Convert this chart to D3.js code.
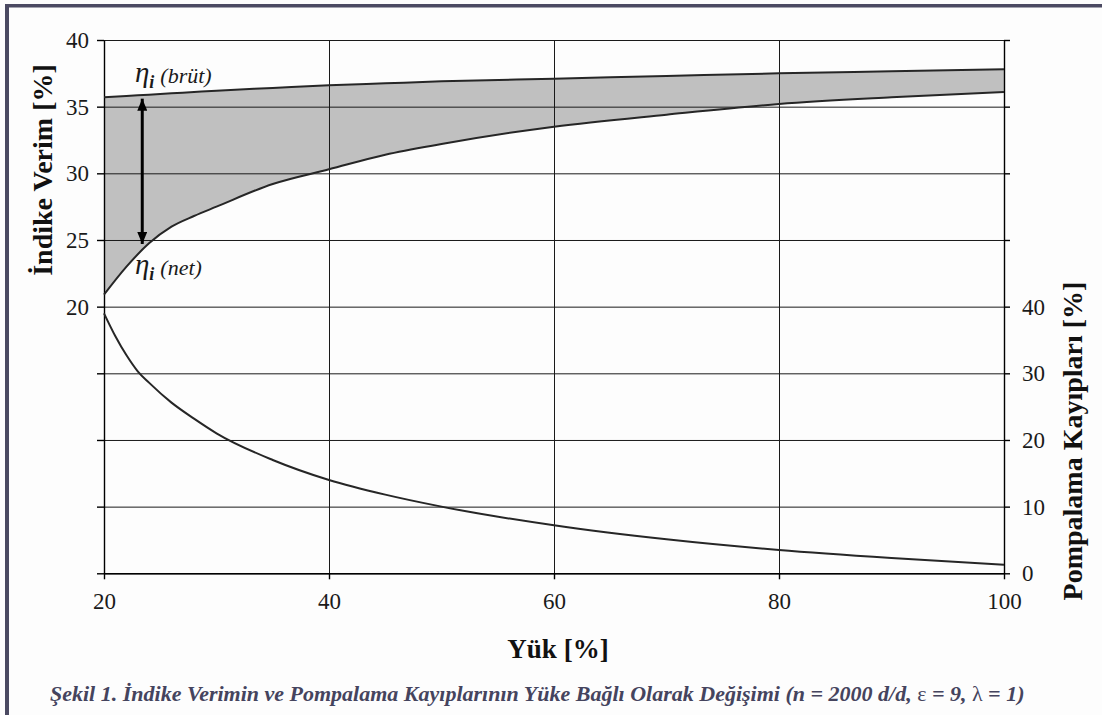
<!DOCTYPE html>
<html>
<head>
<meta charset="utf-8">
<script src="https://cdnjs.cloudflare.com/ajax/libs/d3/7.8.5/d3.min.js"></script>
<style>
  body { margin: 0; background: #fff; }
  svg { display: block; font-family: "Liberation Serif", "Times New Roman", serif; }
  .grid line { stroke: #1a1a1a; stroke-width: 1; }
  .grid path { display: none; }
  .axis path, .axis line { stroke: #000; stroke-width: 1.4; }
  .axis text { font-size: 23px; fill: #1a1a1a; font-family: "Liberation Serif", serif; }
  .curve { fill: none; stroke: #262626; stroke-width: 2; }
</style>
</head>
<body>
<div id="chart"></div>
<script>
// Yük [%] points used for the two efficiency curves
var loadEff = [20, 22, 24, 26, 28, 30, 35, 40, 45, 50, 60, 70, 80, 90, 100];
// indike verim, brüt and net [%] (left axis)
var etaBrut = [35.7, 35.8, 35.9, 36.0, 36.1, 36.2, 36.4, 36.6, 36.75, 36.9, 37.1, 37.3, 37.5, 37.65, 37.8];
var etaNet = [20.9, 23.0, 24.75, 26.0, 26.8, 27.5, 29.2, 30.3, 31.4, 32.2, 33.5, 34.4, 35.2, 35.7, 36.1];

// pompalama kayıpları [%] (right axis)
var loadPump = [20, 21, 22, 23, 24, 26, 28, 30, 35, 40, 45, 50, 60, 70, 80, 90, 100];
var pumpLoss = [39.0, 35.6, 32.7, 30.3, 28.6, 25.6, 23.2, 21.0, 17.0, 14.0, 11.8, 10.0, 7.2, 5.1, 3.5, 2.3, 1.3];

// ticks
var xTicks = [20, 40, 60, 80, 100];
var leftTicks = [0, 5, 10, 15, 20, 25, 30, 35, 40];
var rightTicks = [0, 10, 20, 30, 40, 50, 60, 70, 80];

// arrow between the curves: load, top and bottom value
var arrowLoad = 23.4, arrowTop = 35.6, arrowBottom = 24.7;

var caption = "Şekil 1. İndike Verimin ve Pompalama Kayıplarının Yüke Bağlı Olarak Değişimi  (n = 2000 d/d, ";

var W = 1102, H = 715;
var margin = {top: 40, right: 98, bottom: 141.7, left: 104},
    width = W - margin.left - margin.right,
    height = H - margin.top - margin.bottom;

var svg = d3.select("#chart").append("svg")
    .attr("width", W)
    .attr("height", H);

svg.append("rect").attr("width", W).attr("height", H).attr("fill", "#fdfdfd");

// frame on top and left
svg.append("rect").attr("x", 5).attr("y", 4).attr("width", W - 5).attr("height", 3.5).attr("fill", "#4b4a62");
svg.append("rect").attr("x", 5).attr("y", 4).attr("width", 4).attr("height", H - 4).attr("fill", "#4b4a62");

var x = d3.scaleLinear().domain([20, 100]).range([0, width]),
    yL = d3.scaleLinear().domain([0, 40]).range([height, 0]),
    yR = d3.scaleLinear().domain([0, 80]).range([height, 0]);

var g = svg.append("g")
    .attr("transform", "translate(" + margin.left + "," + margin.top + ")");

// shaded band between brüt and net
var band = d3.area()
    .curve(d3.curveMonotoneX)
    .x(function(d, i) { return x(loadEff[i]); })
    .y0(function(d, i) { return yL(etaNet[i]); })
    .y1(function(d, i) { return yL(etaBrut[i]); });

g.append("path")
    .datum(loadEff)
    .attr("fill", "#c0c0c0")
    .attr("d", band);

// gridlines
g.append("g")
    .attr("class", "grid")
    .call(d3.axisLeft(yL).tickValues(leftTicks).tickSize(-width).tickFormat(""));

g.append("g")
    .attr("class", "grid")
    .attr("transform", "translate(0," + height + ")")
    .call(d3.axisBottom(x).tickValues([40, 60, 80]).tickSize(-height).tickFormat(""));

// axes
g.append("g")
    .attr("class", "axis")
    .call(d3.axisLeft(yL).tickValues(leftTicks).tickSize(7).tickSizeOuter(0).tickPadding(8)
      .tickFormat(function(d) { return d >= 20 ? d : ""; }));

g.append("g")
    .attr("class", "axis")
    .attr("transform", "translate(" + width + ",0)")
    .call(d3.axisRight(yR).tickValues(rightTicks).tickSize(6).tickSizeOuter(0).tickPadding(12)
      .tickFormat(function(d) { return d <= 40 ? d : ""; }));

g.append("g")
    .attr("class", "axis")
    .attr("transform", "translate(0," + height + ")")
    .call(d3.axisBottom(x).tickValues(xTicks).tickSize(6).tickSizeOuter(0).tickPadding(13));

// curves
var lineL = function(xs) {
  return d3.line()
    .curve(d3.curveMonotoneX)
    .x(function(d, i) { return x(xs[i]); })
    .y(function(d) { return yL(d); });
};

g.append("path").datum(etaBrut).attr("class", "curve").attr("d", lineL(loadEff));
g.append("path").datum(etaNet).attr("class", "curve").attr("d", lineL(loadEff));

var pumpLine = d3.line()
    .curve(d3.curveMonotoneX)
    .x(function(d, i) { return x(loadPump[i]); })
    .y(function(d) { return yR(d); });

g.append("path").datum(pumpLoss).attr("class", "curve").attr("d", pumpLine);

// double arrow
var defs = svg.append("defs");
defs.append("marker")
    .attr("id", "head")
    .attr("viewBox", "0 0 12 10")
    .attr("refX", 12).attr("refY", 5)
    .attr("markerWidth", 12).attr("markerHeight", 10)
    .attr("markerUnits", "userSpaceOnUse")
    .attr("orient", "auto-start-reverse")
  .append("path")
    .attr("d", "M0,0 L12,5 L0,10 Z")
    .attr("fill", "#000");

g.append("line")
    .attr("x1", x(arrowLoad)).attr("x2", x(arrowLoad))
    .attr("y1", yL(arrowTop)).attr("y2", yL(arrowBottom))
    .attr("stroke", "#000")
    .attr("stroke-width", 3)
    .attr("marker-start", "url(#head)")
    .attr("marker-end", "url(#head)");

// curve labels
function etaLabel(load, val, txt) {
  var t = g.append("text")
      .attr("x", x(load))
      .attr("y", yL(val))
      .attr("fill", "#1a1a1a");
  t.append("tspan").attr("font-style", "italic").attr("font-size", "29px").text("η");
  t.append("tspan").attr("font-style", "italic").attr("font-weight", "bold")
      .attr("font-size", "18px").attr("dy", 6).text("i");
  t.append("tspan").attr("font-style", "italic").attr("font-size", "22px")
      .attr("dx", 6).attr("dy", -5).text(txt);
}
etaLabel(22.75, 36.85, "(brüt)");
etaLabel(22.75, 22.45, "(net)");

// axis titles
svg.append("text")
    .attr("transform", "translate(52," + (margin.top + 130) + ") rotate(-90)")
    .attr("text-anchor", "middle")
    .attr("font-weight", "bold")
    .attr("font-size", "28px")
    .attr("fill", "#111")
    .text("İndike Verim [%]");

svg.append("text")
    .attr("transform", "translate(1082," + 441 + ") rotate(-90)")
    .attr("text-anchor", "middle")
    .attr("font-weight", "bold")
    .attr("font-size", "28px")
    .attr("fill", "#111")
    .text("Pompalama Kayıpları [%]");

svg.append("text")
    .attr("x", 558)
    .attr("y", 658)
    .attr("text-anchor", "middle")
    .attr("font-weight", "bold")
    .attr("font-size", "27px")
    .attr("fill", "#111")
    .text("Yük [%]");

// caption
var cap = svg.append("text")
    .attr("x", 50)
    .attr("y", 701)
    .attr("font-weight", "bold")
    .attr("font-style", "italic")
    .attr("font-size", "22px")
    .attr("fill", "#45445e");
cap.append("tspan").text(caption);
cap.append("tspan").attr("font-style", "normal").attr("font-weight", "normal").text("ε");
cap.append("tspan").text(" = 9, ");
cap.append("tspan").attr("font-style", "normal").attr("font-weight", "normal").text("λ");
cap.append("tspan").text(" = 1)");
</script>
</body>
</html>
